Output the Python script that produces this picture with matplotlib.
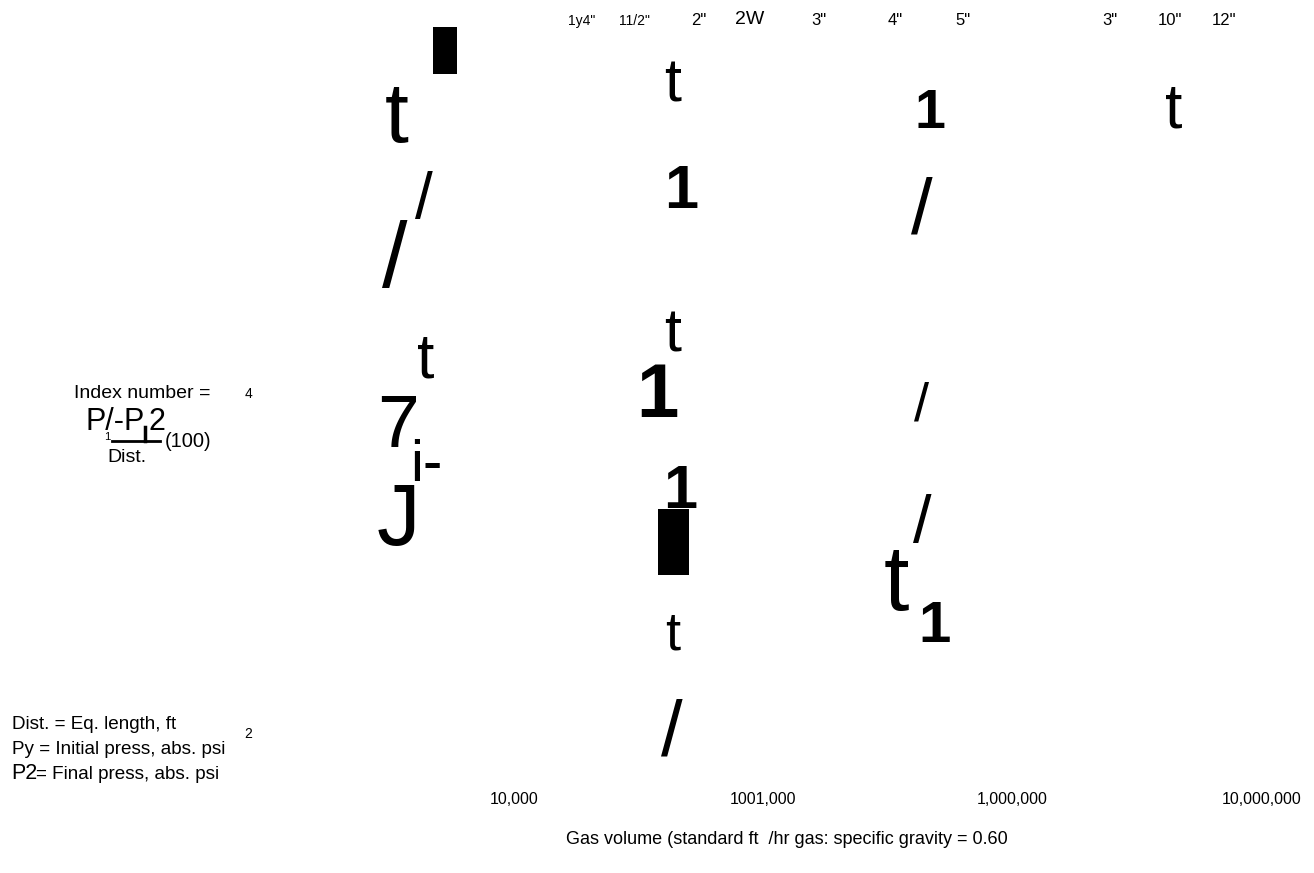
import numpy as np
import matplotlib
matplotlib.use("Agg")
import matplotlib.pyplot as plt
from matplotlib.patches import Rectangle
from matplotlib.lines import Line2D

# ---------------- data ----------------
gas_volume_ticks = [1e4, 1e5, 1e6, 1e7]
gas_volume_labels = ["10,000", "1001,000", "1,000,000", "10,000,000"]
pipe_size_positions = [18600, 30300, 55200, 88400, 167000, 337000, 632000, 2460000, 4280000, 7040000]
pipe_size_labels = ['1y4"', '11/2"', '2"', '2W', '3"', '4"', '5"', '3"', '10"', '12"']
index_ticks = [4, 2]
index_labels = ["4", "2"]
x_label = "Gas volume (standard ft  /hr gas: specific gravity = 0.60"

# chart glyph fragments (content) and their layout (pixel centre x, baseline y, size pt, weight)
glyphs = ["t", "/", "/", "t", "7", "i-", "J",
          "t", "1", "t", "1", "1", "t", "/",
          "1", "/", "/", "/", "t", "1", "t"]
glyph_layout = [(397, 142, 62, 'normal'), (424, 218, 46, 'normal'), (395, 287, 66, 'normal'),
                (426, 378, 45, 'normal'), (398, 447, 54, 'normal'), (426, 481, 42, 'normal'),
                (398, 545, 63, 'normal'),
                (673, 102, 44, 'normal'), (681, 208, 44, 'bold'), (673, 352, 44, 'normal'),
                (657, 417, 55, 'bold'), (680, 508, 44, 'bold'), (673, 650, 39, 'normal'),
                (672, 755, 56, 'normal'),
                (930, 128, 40, 'bold'), (922, 233, 56, 'normal'), (921, 420, 39, 'normal'),
                (922, 542, 48, 'normal'), (896, 610, 66, 'normal'), (935, 642, 42, 'bold'),
                (1174, 127, 45, 'normal')]
# solid block marks (left, top, right, bottom in px)
blocks = [(433, 27, 457, 74), (658, 509, 689, 575)]

W, H = 1314, 873
plt.rcParams['font.family'] = ['Liberation Sans', 'DejaVu Sans']
fig = plt.figure(figsize=(W / 100, H / 100), dpi=100)

def fx(px):
    return px / W

def fy(py):
    return 1 - py / H

# axes: left 265 px, right 1300 px, top 30 px, bottom 785 px
left, right, top, bottom = 265, 1300, 30, 785
ax = fig.add_axes([fx(left), fy(bottom), fx(right - left), (bottom - top) / H])
ax.set_xscale("log")
dec = 249.33
ax.set_xlim(10 ** (4 - (514 - left) / dec), 10 ** (7 + (right - 1262) / dec))
ax.set_ylim(2 - (bottom - 732) * 2 / 339, 4 + (393 - top) * 2 / 339)
for s in ax.spines.values():
    s.set_visible(False)
ax.set_xticks(gas_volume_ticks)
ax.set_xticklabels(gas_volume_labels, fontsize=11.5, family=['Liberation Sans Narrow', 'Liberation Sans'])
ax.xaxis.set_minor_locator(matplotlib.ticker.NullLocator())
ax.tick_params(axis='x', length=0, pad=5)
ax.set_yticks(index_ticks)
ax.set_yticklabels(index_labels, fontsize=10)
ax.tick_params(axis='y', length=0, pad=9)
ax.set_xlabel(x_label, fontsize=13, labelpad=17)
ax.xaxis.label.set_x((787 - left) / (right - left))

top_ax = ax.secondary_xaxis('top')
top_ax.set_xticks(pipe_size_positions)
top_ax.set_xticklabels(pipe_size_labels, fontsize=12,
                       family=['Liberation Sans Narrow', 'Liberation Sans'])
top_ax.xaxis.set_minor_locator(matplotlib.ticker.NullLocator())
top_ax.tick_params(axis='x', length=0, pad=1.5)
labs = top_ax.get_xticklabels()
for lab in labs[:2]:
    lab.set_fontsize(10)
labs[3].set_fontsize(14)
for s in top_ax.spines.values():
    s.set_visible(False)

for g, (x, y, s, w) in zip(glyphs, glyph_layout):
    fig.text(fx(x), fy(y), g, fontsize=s, ha='center', va='baseline', fontweight=w)

for (l, t, r, b) in blocks:
    fig.add_artist(Rectangle((fx(l), fy(b)), fx(r - l), (b - t) / H,
                             transform=fig.transFigure, color='black', lw=0))

# left-side formula text
fig.text(fx(74), fy(398), "Index number =", fontsize=14, ha='left', va='baseline')
fig.text(fx(86), fy(430), "P/-P", fontsize=22, ha='left', va='baseline')
fig.text(fx(148), fy(430), "2", fontsize=22, ha='left', va='baseline')
fig.text(fx(104), fy(440), "1", fontsize=8, ha='left', va='baseline')
fig.text(fx(165), fy(447), "(100)", fontsize=14.5, ha='left', va='baseline')
fig.text(fx(107), fy(462), "Dist.", fontsize=14, ha='left', va='baseline')
fig.add_artist(Line2D([fx(112), fx(160)], [fy(441), fy(441)], transform=fig.transFigure, color='black', lw=2))
fig.add_artist(Line2D([fx(145), fx(145)], [fy(427), fy(441)], transform=fig.transFigure, color='black', lw=2.5))

# bottom-left legend text
fig.text(fx(12), fy(729), "Dist. = Eq. length, ft", fontsize=13.6, ha='left', va='baseline')
fig.text(fx(12), fy(754), "Py = Initial press, abs. psi", fontsize=13.6, ha='left', va='baseline')
fig.text(fx(11), fy(779), "P2", fontsize=15.5, ha='left', va='baseline')
fig.text(fx(36), fy(779), "= Final press, abs. psi", fontsize=13.6, ha='left', va='baseline')

fig.savefig("out.png", dpi=100, facecolor='white')
